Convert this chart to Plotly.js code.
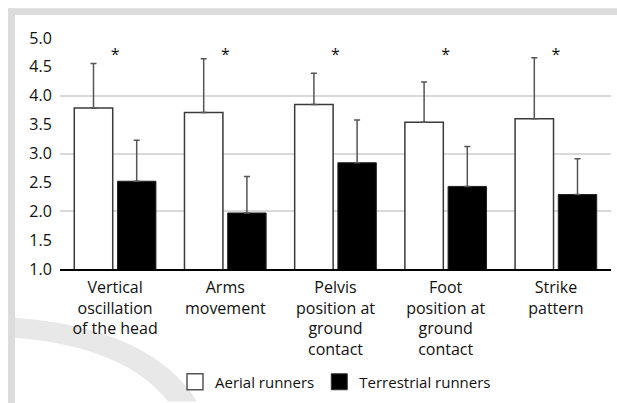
<!DOCTYPE html>
<html><head><meta charset="utf-8">
<script src="https://cdn.plot.ly/plotly-3.0.1.min.js"></script>
<style>html,body{margin:0;padding:0;background:#fff;}#chart{width:617px;height:403px;}</style>
</head><body><div id="chart"></div>
<script>
// ---- data ----
const categories = [
  "Vertical<br>oscillation<br>of the head",
  "Arms<br>movement",
  "Pelvis<br>position at<br>ground<br>contact",
  "Foot<br>position at<br>ground<br>contact",
  "Strike<br>pattern"
];
const aerialName = "Aerial runners";
const terrestrialName = "Terrestrial runners";
const aerialMeans = [3.79, 3.71, 3.85, 3.54, 3.60];
const aerialSD = [0.77, 0.93, 0.54, 0.70, 1.06];
const terrestrialMeans = [2.52, 1.97, 2.84, 2.43, 2.29];
const terrestrialSD = [0.71, 0.63, 0.74, 0.69, 0.62];
const significanceMarks = ["*", "*", "*", "*", "*"];
const significanceY = [4.68, 4.68, 4.68, 4.68, 4.68];
const yTickVals = [1.0, 1.5, 2.0, 2.5, 3.0, 3.5, 4.0, 4.5, 5.0];
const yTickText = ["1.0", "1.5", "2.0", "2.5", "3.0", "3.5", "4.0", "4.5", "5.0"];
const yRange = [1, 5];

// ---- layout helpers (pixel -> paper) ----
const W = 617, H = 403;
const M = {l: 60, r: 6, t: 38, b: 133};
const pw = W - M.l - M.r, ph = H - M.t - M.b;
const px = x => (x - M.l) / pw;
const py = y => (H - M.b - y) / ph;

const FONT = "Open Sans, Noto Sans, sans-serif";
const TXT = "#111111";

const traces = [
  {
    type: "bar", name: aerialName, x: categories, y: aerialMeans, showlegend: false,
    marker: {color: "#ffffff", line: {color: "#3a3a3a", width: 1.5}},
    error_y: {type: "data", symmetric: false, array: aerialSD,
              arrayminus: aerialSD.map(() => 0),
              color: "#555555", thickness: 1.5, width: 3},
    hoverinfo: "skip"
  },
  {
    type: "bar", name: terrestrialName, x: categories, y: terrestrialMeans, showlegend: false,
    marker: {color: "#000000", line: {color: "#222222", width: 1}},
    error_y: {type: "data", symmetric: false, array: terrestrialSD,
              arrayminus: terrestrialSD.map(() => 0),
              color: "#555555", thickness: 1.5, width: 3},
    hoverinfo: "skip"
  },
  {
    type: "scatter", mode: "text", x: categories, y: significanceY,
    text: significanceMarks, yaxis: "y2", showlegend: false,
    textfont: {family: FONT, size: 16, color: TXT}, hoverinfo: "skip"
  },
  // legend entries (larger square swatches)
  {
    type: "scatter", mode: "markers", name: aerialName, x: [null], y: [null],
    marker: {symbol: "square", size: 20, color: "#ffffff", line: {color: "#555555", width: 1.5}},
    hoverinfo: "skip"
  },
  {
    type: "scatter", mode: "markers", name: terrestrialName, x: [null], y: [null],
    marker: {symbol: "square", size: 20, color: "#000000", line: {color: "#333333", width: 1}},
    hoverinfo: "skip"
  }
];

// decorative frame
const band = "#dcdcdc";
const arcPath =
  `M ${px(15)} ${py(319)} Q ${px(150)} ${py(329)} ${px(197)} ${py(403)} ` +
  `L ${px(168)} ${py(403)} Q ${px(125)} ${py(348)} ${px(15)} ${py(339)} Z`;

const layout = {
  width: W, height: H,
  margin: M,
  paper_bgcolor: "#ffffff", plot_bgcolor: "rgba(0,0,0,0)",
  font: {family: FONT, size: 16, color: TXT},
  barmode: "group", bargap: 0.216, bargroupgap: 0.11,
  showlegend: true,
  legend: {orientation: "h", x: 0.5, xanchor: "center", y: py(382), yanchor: "middle",
           font: {family: FONT, size: 15, color: TXT}, bgcolor: "rgba(0,0,0,0)",
           traceorder: "normal", itemwidth: 30},
  xaxis: {type: "category", showgrid: false, showline: true, linecolor: "#000000", linewidth: 1.5,
          ticks: "outside", ticklen: 3, tickcolor: "rgba(0,0,0,0)",
          tickfont: {family: FONT, size: 16, color: TXT}, fixedrange: true},
  yaxis: {range: yRange, tickvals: yTickVals, ticktext: yTickText, showgrid: false,
          zeroline: false, showline: false, ticks: "outside", ticklen: 4,
          tickcolor: "rgba(0,0,0,0)", tickfont: {family: FONT, size: 16, color: TXT}},
  yaxis2: {range: yRange, overlaying: "y", dtick: 1, tick0: 1, showgrid: true,
           gridcolor: "#d9d9d9", gridwidth: 2, showticklabels: false, zeroline: false,
           showline: false, ticks: ""},
  shapes: [
    {type: "rect", xref: "paper", yref: "paper", layer: "below",
     x0: px(8), x1: px(640), y0: py(8), y1: py(15), fillcolor: band, line: {width: 0}},
    {type: "rect", xref: "paper", yref: "paper", layer: "below",
     x0: px(8), x1: px(15), y0: py(8), y1: py(420), fillcolor: band, line: {width: 0}},
    {type: "path", xref: "paper", yref: "paper", layer: "below",
     path: arcPath, fillcolor: "#e8e8e8", line: {width: 0}}
  ]
};

Plotly.newPlot("chart", traces, layout, {displayModeBar: false, staticPlot: true});
</script>
</body></html>
